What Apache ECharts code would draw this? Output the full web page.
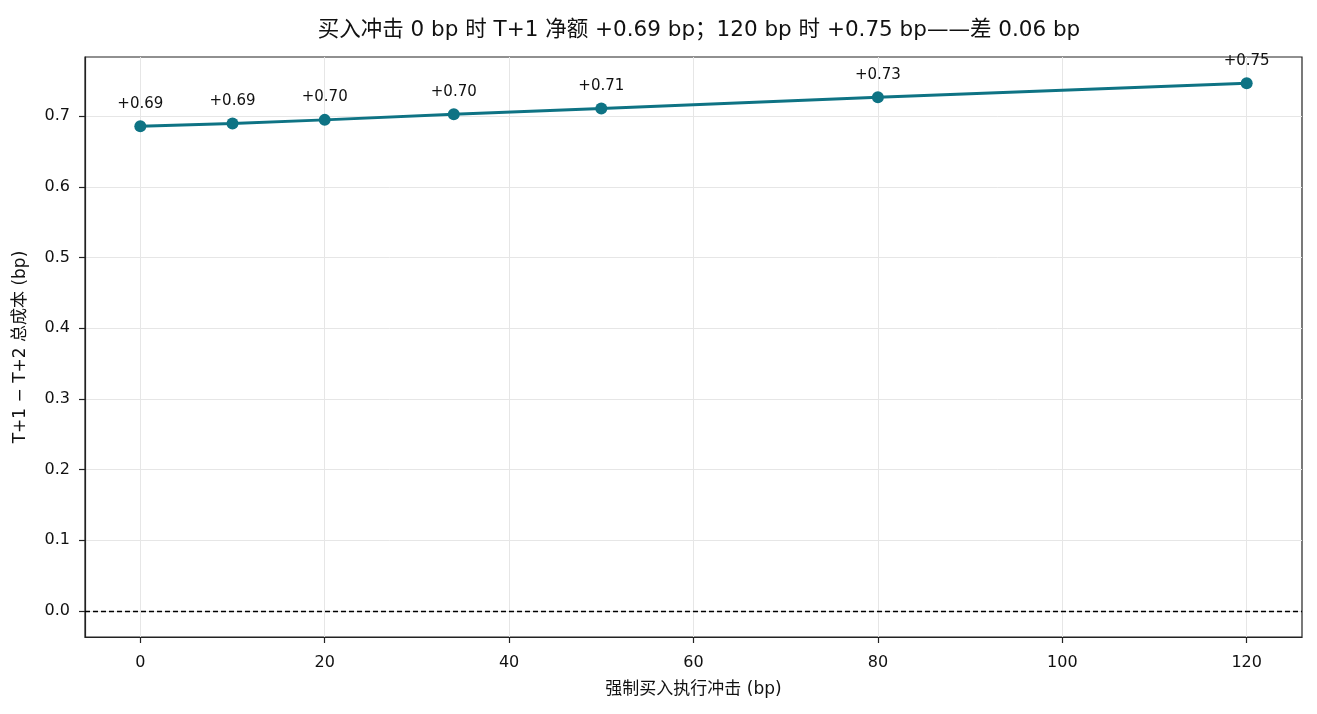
<!DOCTYPE html>
<html>
<head>
<meta charset="utf-8">
<script src="https://cdn.jsdelivr.net/npm/echarts@6/dist/echarts.min.js"></script>
<style>
  html, body { margin: 0; padding: 0; background: #fff; }
  #chart { width: 1317px; height: 714px; }
</style>
</head>
<body>
<div id="chart"></div>
<script>
// 数据
const impactBp = [0, 10, 20, 34, 50, 80, 120];
const netCost = [0.686, 0.690, 0.695, 0.703, 0.711, 0.727, 0.747];
const pointLabels = ['+0.69', '+0.69', '+0.70', '+0.70', '+0.71', '+0.73', '+0.75'];
const xTicks = [0, 20, 40, 60, 80, 100, 120];
const yTicks = [0.0, 0.1, 0.2, 0.3, 0.4, 0.5, 0.6, 0.7];

const titleText = '买入冲击 0 bp 时 T+1 净额 +0.69 bp；120 bp 时 +0.75 bp——差 0.06 bp';
const FONT = '"DejaVu Sans", "Noto Sans CJK SC", sans-serif';
const LINE_COLOR = '#0e7384';

const chart = echarts.init(document.getElementById('chart'));

const option = {
  backgroundColor: '#fff',
  animation: false,
  textStyle: { fontFamily: FONT },
  title: {
    text: titleText,
    left: 694,
    textAlign: 'center',
    top: 15,
    textStyle: { fontSize: 21.5, fontWeight: 'normal', color: '#111', fontFamily: FONT }
  },
  grid: {
    left: 85,
    right: 15,
    top: 57,
    bottom: 77,
    show: true,
    borderColor: '#222',
    borderWidth: 1.2
  },
  xAxis: {
    type: 'value',
    min: -6,
    max: 126,
    name: '强制买入执行冲击 (bp)',
    nameLocation: 'middle',
    nameGap: 44,
    nameTextStyle: { fontSize: 17, color: '#111' },
    axisLine: { show: true, onZero: false, lineStyle: { color: '#222', width: 1.2 } },
    axisTick: { show: true, customValues: xTicks, length: 6, lineStyle: { color: '#222', width: 1.2 } },
    axisLabel: { customValues: xTicks, fontSize: 16, color: '#111', margin: 18 },
    splitLine: { show: true, lineStyle: { color: '#e6e6e6' } }
  },
  yAxis: {
    type: 'value',
    min: -0.037,
    max: 0.784,
    name: 'T+1 − T+2 总成本 (bp)',
    nameLocation: 'middle',
    nameGap: 56,
    nameTextStyle: { fontSize: 17, color: '#111' },
    axisLine: { show: true, onZero: false, lineStyle: { color: '#222', width: 1.2 } },
    axisTick: { show: true, customValues: yTicks, length: 6, lineStyle: { color: '#222', width: 1.2 } },
    axisLabel: {
      customValues: yTicks,
      fontSize: 16,
      color: '#111',
      margin: 15,
      formatter: v => v.toFixed(1)
    },
    splitLine: { show: true, lineStyle: { color: '#e6e6e6' } }
  },
  series: [{
    type: 'line',
    data: impactBp.map((x, i) => [x, netCost[i]]),
    symbol: 'circle',
    symbolSize: 12,
    itemStyle: { color: LINE_COLOR },
    lineStyle: { color: LINE_COLOR, width: 3 },
    label: {
      show: true,
      position: 'top',
      distance: 9,
      fontSize: 15,
      color: '#111',
      formatter: p => pointLabels[p.dataIndex]
    },
    markLine: {
      silent: true,
      symbol: 'none',
      label: { show: false },
      lineStyle: { color: '#000', type: [5, 3], width: 1.3 },
      data: [{ yAxis: 0 }]
    },
    z: 5
  }]
};

chart.setOption(option);
</script>
</body>
</html>
